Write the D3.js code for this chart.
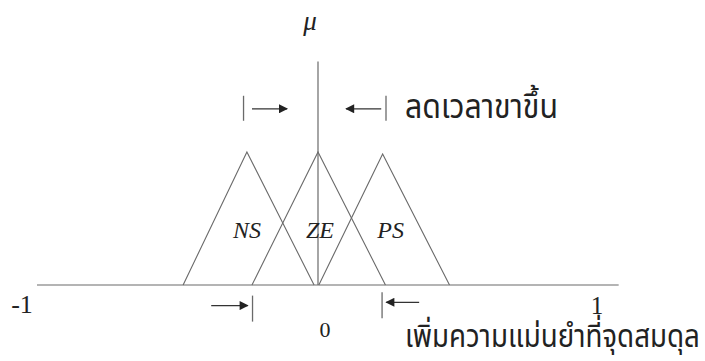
<!DOCTYPE html>
<html>
<head>
<meta charset="utf-8">
<script src="https://cdn.jsdelivr.net/npm/d3@7"></script>
<style>
  html, body { margin: 0; padding: 0; background: #fff; }
  svg { display: block; }
</style>
</head>
<body>
<svg id="chart" width="705" height="361"></svg>
<script>
// ---- data ----
const setNames = ["NS", "ZE", "PS"];
const setLeft  = [-0.48, -0.235, 0.003];
const setPeak  = [-0.253, 0.0, 0.23];
const setRight = [-0.014, 0.24, 0.468];
const setHeight = [1.0, 1.0, 0.985];
const xTickLabels = ["-1", "0", "1"];
const xTickValues = [-1, 0, 1];
const axisExtent = [-1, 1.07];
const muAxisTop = 1.68;
const topText = "ลดเวลาขาขึ้น";
const bottomText = "เพิ่มความแม่นยำที่จุดสมดุล";
// annotation arrows: [barX, arrowTailX, arrowHeadX, mu]
const topArrows = [[-0.265, -0.235, -0.11, 1.325], [0.242, 0.225, 0.1, 1.325]];
const bottomArrows = [[-0.233, -0.38, -0.25, -0.155], [0.228, 0.36, 0.243, -0.13]];

const svg = d3.select("#chart");
const x = d3.scaleLinear().domain([-1, 1]).range([37, 599]);
const y = d3.scaleLinear().domain([0, 1]).range([285, 152]);

const lineCol = "#6a6a6a";
const textCol = "#222";

// arrow marker
svg.append("defs").append("marker")
  .attr("id", "ah").attr("viewBox", "0 0 10 10")
  .attr("refX", 9).attr("refY", 5)
  .attr("markerWidth", 10).attr("markerHeight", 9)
  .attr("markerUnits", "userSpaceOnUse")
  .attr("orient", "auto")
  .append("path").attr("d", "M0,0 L10,5 L0,10 Z").attr("fill", "#222");

// horizontal axis
svg.append("line")
  .attr("x1", x(axisExtent[0])).attr("x2", x(axisExtent[1]))
  .attr("y1", y(0)).attr("y2", y(0))
  .attr("stroke", lineCol).attr("stroke-width", 1.2);

// vertical mu axis
svg.append("line")
  .attr("x1", x(0)).attr("x2", x(0))
  .attr("y1", y(0)).attr("y2", y(muAxisTop))
  .attr("stroke", lineCol).attr("stroke-width", 1.2);

// triangles
const tri = setNames.map((n, i) => [[setLeft[i], 0], [setPeak[i], setHeight[i]], [setRight[i], 0]]);
const lineGen = d3.line().x(d => x(d[0])).y(d => y(d[1]));
svg.selectAll("path.tri").data(tri).join("path")
  .attr("class", "tri")
  .attr("d", lineGen)
  .attr("fill", "none").attr("stroke", lineCol).attr("stroke-width", 1.1);

// set labels
svg.selectAll("text.set").data(setNames).join("text")
  .attr("class", "set")
  .attr("x", (d, i) => x(setPeak[i]) + (i === 1 ? 2 : (i === 2 ? 8 : 0)))
  .attr("y", y(0.355))
  .attr("text-anchor", "middle")
  .attr("font-family", "Liberation Serif, serif")
  .attr("font-style", "italic")
  .attr("font-size", 24)
  .attr("fill", textCol)
  .text(d => d);

// mu label
svg.append("text")
  .attr("x", x(0) - 8).attr("y", 30)
  .attr("text-anchor", "middle")
  .attr("font-family", "Liberation Serif, serif")
  .attr("font-style", "italic")
  .attr("font-size", 27)
  .attr("fill", textCol)
  .text("\u03BC");

// tick labels
const tickOffsets = {"-1": [-15, 28, 26], "0": [7, 52, 22], "1": [-2, 29, 25]};
svg.selectAll("text.tick").data(xTickValues).join("text")
  .attr("class", "tick")
  .attr("x", (d, i) => x(d) + tickOffsets[xTickLabels[i]][0])
  .attr("y", (d, i) => y(0) + tickOffsets[xTickLabels[i]][1])
  .attr("text-anchor", "middle")
  .attr("font-family", "Liberation Serif, serif")
  .attr("font-size", (d, i) => tickOffsets[xTickLabels[i]][2])
  .attr("fill", textCol)
  .text((d, i) => xTickLabels[i]);

// annotation arrows
function drawArrows(arr, barHalf) {
  arr.forEach(a => {
    const [bx, tx, hx, m] = a;
    svg.append("line")
      .attr("x1", x(bx)).attr("x2", x(bx))
      .attr("y1", y(m) - barHalf[0]).attr("y2", y(m) + barHalf[1])
      .attr("stroke", lineCol).attr("stroke-width", 1.3);
    svg.append("line")
      .attr("x1", x(tx)).attr("x2", x(hx))
      .attr("y1", y(m)).attr("y2", y(m))
      .attr("stroke", "#333").attr("stroke-width", 1.2)
      .attr("marker-end", "url(#ah)");
  });
}
drawArrows(topArrows, [13, 12]);
drawArrows(bottomArrows, [10, 16]);

// Thai annotations, horizontally condensed via transform to the reference width
function condensedText(str, px, py, size, targetW) {
  const t = svg.append("text")
    .attr("x", 0).attr("y", 0)
    .attr("font-family", "Noto Sans Thai, Noto Sans, sans-serif")
    .attr("font-size", size)
    .attr("fill", textCol)
    .text(str);
  const w = t.node().getComputedTextLength();
  const k = w > 0 ? targetW / w : 1;
  t.attr("transform", `translate(${px},${py}) scale(${k},1)`);
}
condensedText(topText, 405, 118, 33, 153);
condensedText(bottomText, 405, 347, 32, 295);
</script>
</body>
</html>
